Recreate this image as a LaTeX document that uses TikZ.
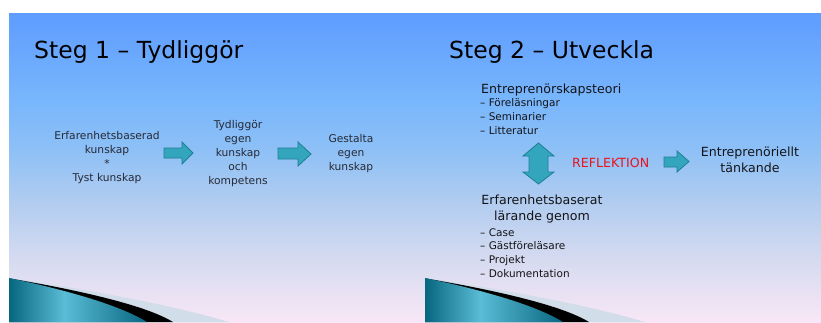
\documentclass[tikz,border=0pt]{standalone}
\usepackage{fontspec}
\setmainfont{DejaVu Sans}
\usetikzlibrary{calc}
\definecolor{bgA}{HTML}{5E9CFF}
\definecolor{bgB}{HTML}{78B6FC}
\definecolor{bgC}{HTML}{8EC0F6}
\definecolor{bgD}{HTML}{B0CCF0}
\definecolor{bgE}{HTML}{D6DBF0}
\definecolor{bgF}{HTML}{F8E7F6}
\definecolor{arrfill}{HTML}{33A6BE}
\definecolor{arrdraw}{HTML}{1D7F94}
\definecolor{tealdark}{HTML}{08667F}
\definecolor{teallight}{HTML}{5ABCD6}
\definecolor{paleband}{HTML}{D2DDEA}
\definecolor{txtL}{HTML}{262A36}
\definecolor{txtR}{HTML}{141418}
\definecolor{refred}{HTML}{E8141E}
\pgfdeclareverticalshading{slidebg}{100bp}{color(0bp)=(bgF); color(25bp)=(bgF); color(35bp)=(bgE); color(44.7bp)=(bgD); color(52.8bp)=(bgC); color(61bp)=(bgB); color(75bp)=(bgA); color(100bp)=(bgA)}
\pgfdeclarehorizontalshading{swoosh}{100bp}{color(0bp)=(tealdark); color(25bp)=(tealdark); color(45bp)=(teallight); color(75bp)=(tealdark); color(100bp)=(tealdark)}
\tikzset{
  title/.style={anchor=base west, inner sep=0pt, font=\fontsize{23.5}{26}\selectfont, text=black},
  lefttxt/.style={align=center, inner sep=0pt, anchor=base, font=\fontsize{10.7}{13.9}\selectfont, text=txtL},
  bigtxt/.style={inner sep=0pt, font=\fontsize{12.6}{15.5}\selectfont, text=txtR},
  bullets/.style={align=left, inner sep=0pt, anchor=base west, font=\fontsize{10.5}{13.6}\selectfont, text=txtR},
  blockarrow/.style={fill=arrfill, draw=arrdraw, line width=0.8pt, line join=miter}
}
\begin{document}
\begin{tikzpicture}[x=1pt,y=-1pt]
\useasboundingbox (0,0) rectangle (821,322);
\fill[white] (0,0) rectangle (821,322);
\shade[shading=slidebg] (9,13) rectangle (821,322);
% swooshes
\foreach \x in {9,425}{
  \fill[paleband] (\x,278) .. controls (\x+90,291) and (\x+170,307) .. (\x+220,322) -- (\x,322) -- cycle;
  \fill[black] (\x,278.3) .. controls (\x+75,291) and (\x+138,306) .. (\x+164,322) -- (\x,322) -- cycle;
  \shade[shading=swoosh] (\x,278) .. controls (\x+62,291) and (\x+112,306) .. (\x+138,322) -- (\x,322) -- cycle;
}
% titles
\node[title] (t1) at (34,58) {Steg 1 – Tydliggör};
\node[title] (t2) at (449,58) {Steg 2 – Utveckla};
% left slide (base = last line)
\node[lefttxt] (a) at (107,181) {Erfarenhetsbaserad\\kunskap\\*\\Tyst kunskap};
\node[lefttxt] (b) at (238,184) {Tydliggör\\egen\\kunskap\\och\\kompetens};
\node[lefttxt] (c) at (351,170) {Gestalta\\egen\\kunskap};
\draw[blockarrow] (164,148) -- (182,148) -- (182,142) -- (193,153) -- (182,164) -- (182,158) -- (164,158) -- cycle;
\draw[blockarrow] (278,148) -- (298,148) -- (298,142) -- (311,154) -- (298,166) -- (298,159) -- (278,159) -- cycle;
% right slide
\node[bigtxt, anchor=base west] (th) at (481,93) {Entreprenörskapsteori};
\node[bullets] (tb) at (480,134) {– Föreläsningar\\– Seminarier\\– Litteratur};
\node[bigtxt, anchor=base, align=center] (eh) at (542,220) {Erfarenhetsbaserat\\lärande genom};
\node[bullets] (eb) at (480,277) {– Case\\– Gästföreläsare\\– Projekt\\– Dokumentation};
\node[bigtxt, text=refred, anchor=base west] (r) at (572,167) {REFLEKTION};
\node[bigtxt, align=center, anchor=base] (et) at (750,172) {Entreprenöriellt\\tänkande};
\draw[blockarrow] (538.5,143) -- (554,156) -- (548,156) -- (548,172) -- (554,172) -- (538.5,184) -- (523,172) -- (529,172) -- (529,156) -- (523,156) -- cycle;
\draw[blockarrow] (664,157) -- (677,157) -- (677,151) -- (689,161.5) -- (677,172) -- (677,167) -- (664,167) -- cycle;
\end{tikzpicture}
\end{document}
